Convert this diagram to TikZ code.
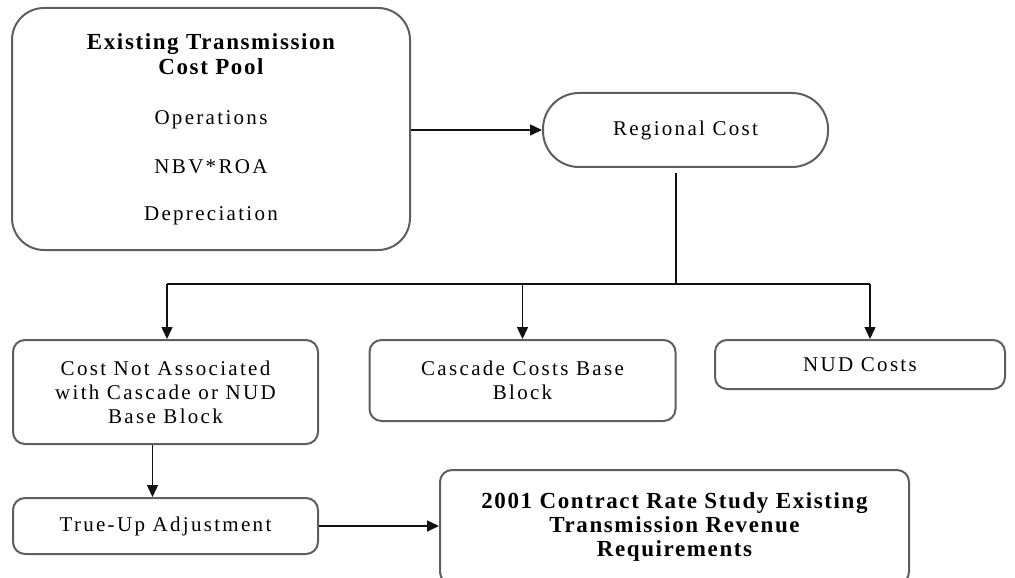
\documentclass[tikz,border=0pt]{standalone}
\usepackage{fontspec}
\setmainfont{Liberation Serif}[LetterSpace=11,BoldFeatures={LetterSpace=7}]
\usetikzlibrary{arrows.meta}
\definecolor{Frame}{HTML}{5E5E5E}
\definecolor{Ink}{HTML}{111111}
\newcommand{\headfont}{\fontsize{11.5}{12.5}\selectfont\bfseries}
\tikzset{
  box/.style={rounded corners=6pt, draw=Frame, line width=1pt, inner sep=0pt, align=center, font=\fontsize{10.5}{12}\selectfont},
  poolbox/.style={box, rounded corners=16pt, font=\fontsize{10.5}{12.5}\selectfont},
  pillbox/.style={box, rounded corners=18pt},
  arr/.style={-{Triangle[length=6pt,width=5.5pt]}, line width=0.75pt, draw=Ink},
  link/.style={line width=0.75pt, draw=Ink}
}

\begin{document}
\begin{tikzpicture}[x=0.5pt,y=-0.5pt]
\useasboundingbox (0,0) rectangle (1015,577);
% cost pool and regional split
\node[poolbox,minimum width=199pt,minimum height=121pt] (pool) at (211,129)
  {{\headfont Existing Transmission}\\{\headfont Cost Pool}\\[12.5pt]
   Operations\\[12pt] NBV*ROA\\[11pt] Depreciation};
\node[pillbox,minimum width=142.5pt,minimum height=37pt] (regional) at (685.5,130) {Regional Cost};
\node[box,minimum width=152.5pt,minimum height=52pt] (costnot) at (165.5,392)
  {Cost Not Associated\\with Cascade or NUD\\Base Block};
\node[box,minimum width=153pt,minimum height=40.5pt] (cascade) at (522.5,380.5)
  {Cascade Costs Base\\Block};
\node[box,minimum width=145pt,minimum height=24.5pt] (nud) at (860,364.5) {NUD Costs};
\node[box,minimum width=152.5pt,minimum height=28pt] (trueup) at (165.5,526) {True-Up Adjustment};
\node[box,minimum width=234.5pt,minimum height=57pt] (final) at (674.5,527)
  {{\headfont 2001 Contract Rate Study Existing}\\{\headfont Transmission Revenue}\\{\headfont Requirements}};

\coordinate (bus) at (676,284);
\coordinate (busL) at (167,284);
\coordinate (busR) at (870,284);

\draw[arr] (pool.east |- regional) -- (regional.west);
\draw[link] ([yshift=-2.5pt]regional.south -| bus) -- (bus);
\draw[link] (busL) -- (busR);
\draw[arr] (busL) -- (busL |- costnot.north);
\draw[arr] (cascade.north |- bus) -- (cascade.north);
\draw[arr] (busR) -- (busR |- nud.north);
\draw[arr] ([xshift=-6.5pt]costnot.south) -- ([xshift=-6.5pt]trueup.north);
\draw[arr] (trueup.east) -- (trueup.east -| final.west);
\end{tikzpicture}
\end{document}
